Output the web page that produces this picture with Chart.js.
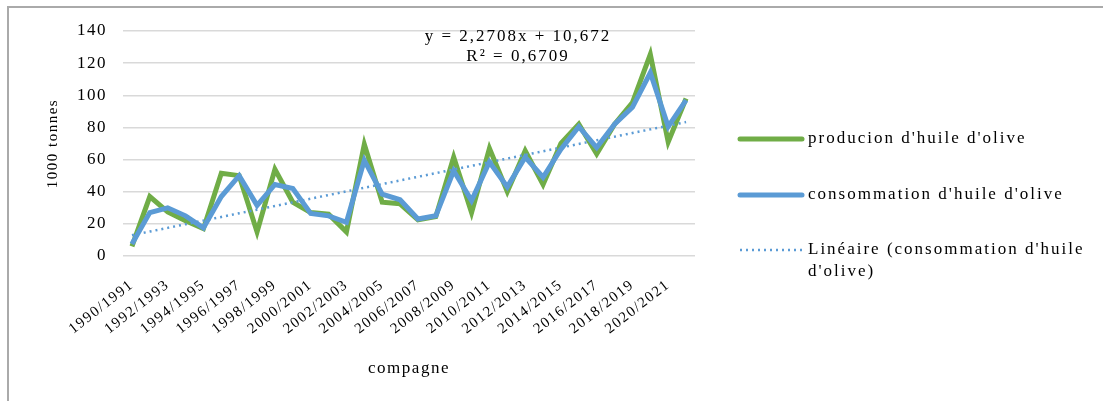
<!DOCTYPE html>
<html>
<head>
<meta charset="utf-8">
<script src="https://cdn.jsdelivr.net/npm/chart.js@4.4.1/dist/chart.umd.min.js"></script>
<style>
    body { margin: 0; background: #fff; }
    #wrap { position: relative; width: 1103px; height: 401px; }
    #frame { position: absolute; left: 7px; top: 6px; right: 0; bottom: 0; border-top: 2px solid #aaa; border-left: 2px solid #aaa; pointer-events: none; }
</style>
</head>
<body>
<div id="wrap">
    <canvas id="oliveChart" width="1103" height="401"></canvas>
    <div id="frame"></div>
</div>
<script>
// campagnes 1990/1991 .. 2021/2022
const seasons = [];
for (let y = 1990; y <= 2021; y++) seasons.push(y + '/' + (y + 1));

const production = [6, 37, 27.5, 22, 17, 51.5, 50, 15, 54, 33.5, 27, 26, 15, 69.5, 33.5, 32.5,
    22.5, 24.5, 61.5, 27, 67, 40, 65.5, 44.5, 70, 82, 63.5, 82, 95.5, 125.5, 71, 98];
const consommation = [7.5, 27, 30, 25, 17.5, 37, 50, 31.5, 44.5, 42, 26.5, 25, 21, 59.5, 38.5, 35,
    23, 25, 53, 34.5, 58.5, 43, 61.5, 49, 66.5, 80.5, 67.5, 82, 92.5, 114, 80.5, 97];

const trendSlope = 2.2708;
const trendIntercept = 10.672;
const trendLine = seasons.map((s, i) => trendSlope * (i + 1) + trendIntercept);

const serif = "'Liberation Serif', 'DejaVu Serif', serif";

const legendItems = [
    { text: ["producion d'huile d'olive"], color: '#70AD47', width: 5, dash: [], y: 139 },
    { text: ["consommation d'huile d'olive"], color: '#5B9BD5', width: 5, dash: [], y: 195 },
    { text: ["Linéaire (consommation d'huile", "d'olive)"], color: '#5B9BD5', width: 2.5, dash: [2, 4], y: 250 }
];

// the original text is drawn wide, so every label gets some letter spacing
const spacing = {
    id: 'spacing',
    beforeLayout(chart) { chart.ctx.letterSpacing = '1.5px'; },
    beforeDraw(chart) { chart.ctx.letterSpacing = '1.5px'; }
};

const extras = {
    id: 'extras',
    afterDraw(chart) {
        const c = chart.ctx;
        c.save();
        c.letterSpacing = '2px';
        c.font = '17px ' + serif;
        c.fillStyle = '#000';
        c.textBaseline = 'middle';
        c.textAlign = 'center';
        c.fillText('y = 2,2708x + 10,672', 518, 37);
        c.fillText('R² = 0,6709', 518, 57);

        c.textAlign = 'left';
        legendItems.forEach(item => {
            c.beginPath();
            c.strokeStyle = item.color;
            c.lineWidth = item.width;
            c.lineCap = item.dash.length ? 'butt' : 'round';
            c.setLineDash(item.dash);
            c.moveTo(740, item.y);
            c.lineTo(802, item.y);
            c.stroke();
            c.setLineDash([]);
            item.text.forEach((t, k) => c.fillText(t, 808, item.y + k * 22));
        });
        c.restore();
    }
};

new Chart(document.getElementById('oliveChart'), {
    type: 'line',
    data: {
        labels: seasons,
        datasets: [{
            label: "producion d'huile d'olive",
            data: production,
            borderColor: '#70AD47',
            borderWidth: 5,
            pointRadius: 0,
            tension: 0,
            order: 3
        }, {
            label: "consommation d'huile d'olive",
            data: consommation,
            borderColor: '#5B9BD5',
            borderWidth: 5,
            pointRadius: 0,
            tension: 0,
            order: 2
        }, {
            label: "Linéaire (consommation d'huile d'olive)",
            data: trendLine,
            borderColor: '#5B9BD5',
            borderWidth: 2.5,
            borderDash: [2, 4],
            pointRadius: 0,
            order: 1
        }]
    },
    options: {
        responsive: false,
        animation: false,
        layout: { padding: { left: 40, top: 31, right: 408, bottom: 18 } },
        plugins: { legend: { display: false }, tooltip: { enabled: false } },
        scales: {
            x: {
                offset: true,
                grid: { display: false },
                border: { display: false },
                ticks: {
                    autoSkip: false,
                    minRotation: 38,
                    maxRotation: 38,
                    padding: 12,
                    color: '#000',
                    font: { family: serif, size: 15 },
                    callback: function(v, i) { return i % 2 === 0 ? this.getLabelForValue(v) : ''; }
                },
                title: { display: true, text: 'compagne', color: '#000', font: { family: serif, size: 17 } },
                afterFit(scale) { scale.height = 127; }
            },
            y: {
                min: 0,
                max: 140,
                ticks: { stepSize: 20, color: '#000', padding: 16, font: { family: serif, size: 17 } },
                grid: { color: '#d9d9d9', lineWidth: 1.5, drawTicks: false },
                border: { display: false },
                title: { display: true, text: '1000 tonnes', color: '#000', font: { family: serif, size: 15 } },
                afterFit(scale) { scale.width = 83; }
            }
        }
    },
    plugins: [spacing, extras]
});
</script>
</body>
</html>
